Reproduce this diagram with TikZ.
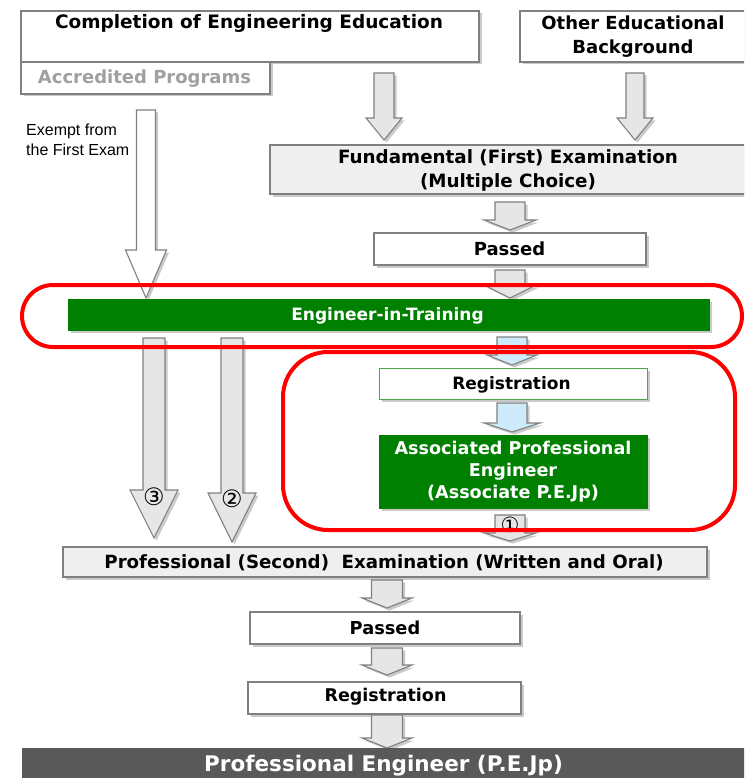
\documentclass[tikz,border=0pt]{standalone}
\usepackage{fontspec}
\setmainfont{DejaVu Sans}
\newfontfamily\arialf{Liberation Sans}
\usetikzlibrary{shadows}
\definecolor{boxgray}{HTML}{808080}
\definecolor{lightfill}{HTML}{EFEFEF}
\definecolor{arrowfill}{HTML}{E6E6E6}
\definecolor{bluefill}{HTML}{CDEBFA}
\definecolor{eitgreen}{HTML}{008000}
\definecolor{pebar}{HTML}{595959}
\definecolor{accgray}{HTML}{A0A0A0}
\newcommand\barrow[7][]{%
  \draw[blockarrow,#1] (#2-#6,#3) -- (#2+#6,#3) -- (#2+#6,#4) -- (#2+#7,#4) -- (#2,#5) -- (#2-#7,#4) -- (#2-#6,#4) -- cycle;}
\begin{document}
\begin{tikzpicture}[x=1pt,y=-1pt,
  shad/.style={drop shadow={opacity=0.35,shadow xshift=2.5pt,shadow yshift=-2.5pt,fill=black!60}},
  box/.style={draw=boxgray,line width=1.2pt,fill=white,inner sep=0pt,outer sep=0pt,shad},
  grayfillbox/.style={box,fill=lightfill},
  greenbox/.style={draw=eitgreen,fill=eitgreen,inner sep=0pt,outer sep=0pt,shad},
  regbox/.style={draw=eitgreen!70,line width=1pt,fill=white,inner sep=0pt,outer sep=0pt,shad},
  blockarrow/.style={draw=boxgray,line width=1.1pt,fill=arrowfill,line join=miter,shad},
  redring/.style={draw=red,line width=4pt},
  txt/.style={font=\bfseries\fontsize{18.3}{24}\selectfont,inner sep=0pt,align=center},
  wtxt/.style={txt,text=white},
  circnum/.style={font=\fontsize{24}{24}\selectfont,inner sep=0pt},
]
\useasboundingbox (0,0) rectangle (744,778);
\clip (0,0) rectangle (744,778);

% top boxes
\node[box,minimum width=458pt,minimum height=51pt] (edu) at (250,36.5) {};
\node[txt,font=\bfseries\fontsize{18.5}{24}\selectfont] (edutxt) at (249,23.5) {Completion of Engineering Education};
\node[box,minimum width=249pt,minimum height=32pt] (acc) at (145.5,78) {};
\node[txt,text=accgray,font=\bfseries\fontsize{18}{24}\selectfont] (acctxt) at (144.5,78.5) {Accredited Programs};
\node[box,minimum width=230pt,minimum height=51pt] (other) at (635,36.5) {};
\node[txt,font=\bfseries\fontsize{18}{24}\selectfont] (othertxt) at (633,36.5) {Other Educational\\Background};

% arrows to fundamental
\barrow{384}{73}{118}{140}{10}{18}
\barrow{635}{73}{118}{140}{9}{18}

% fundamental
\node[grayfillbox,minimum width=480pt,minimum height=49pt] (fund) at (510,169.5) {};
\node[txt] (fundtxt) at (508,170.5) {Fundamental (First) Examination\\(Multiple Choice)};

\barrow{510}{202}{220}{230}{15}{26}
\node[box,minimum width=272pt,minimum height=32pt] (passed1) at (510,249) {};
\node[txt,font=\bfseries\fontsize{18}{24}\selectfont] (passed1txt) at (509.5,248.5) {Passed};
\barrow{510}{270}{285}{298}{15}{26}

% exempt
\node[font=\arialf\fontsize{16}{20}\selectfont,align=left,anchor=west,inner sep=0pt] (exempt) at (26,140) {Exempt from\\the First Exam};
\barrow[fill=white]{146}{110}{250}{298}{9.5}{20.5}

% EIT
\node[greenbox,minimum width=641pt,minimum height=31pt] (eit) at (388.5,314.5) {};
\node[wtxt,font=\bfseries\fontsize{17}{20}\selectfont] (eittxt) at (387.5,315.5) {Engineer-in-Training};

% long arrows
\barrow{154}{338}{490}{538}{11}{24}
\barrow{232}{338}{493}{542}{11}{24}
\node[circnum] (c3) at (154,497) {③};
\node[circnum] (c2) at (232,499) {②};

% registration / APE
\barrow[fill=bluefill]{512}{337}{355}{365}{15}{25}
\node[regbox,minimum width=268pt,minimum height=31pt] (reg1) at (513,383.5) {};
\node[txt,font=\bfseries\fontsize{17}{20}\selectfont] (reg1txt) at (511.5,384.5) {Registration};
\barrow[fill=bluefill]{512}{403}{423}{432}{15}{28}
\node[greenbox,minimum width=268pt,minimum height=73pt] (ape) at (513,471.5) {};
\node[wtxt,font=\bfseries\fontsize{17.6}{22}\selectfont] (apetxt) at (513,471.5) {Associated Professional\\Engineer\\(Associate P.E.Jp)};
\barrow{510}{515}{533}{541}{15}{26}
\node[circnum,font=\fontsize{21}{21}\selectfont] (c1) at (510,525) {①};

% red rings
\draw[redring,rounded corners=31pt] (22,285) rectangle (742,347);
\draw[redring,rounded corners=45pt] (283,352) rectangle (735,530);

% professional exam
\node[grayfillbox,minimum width=644pt,minimum height=30pt] (pro) at (385,562) {};
\node[txt,font=\bfseries\fontsize{18.2}{22}\selectfont] (protxt) at (384,562.5) {Professional (Second)\ \ Examination (Written and Oral)};

\barrow{387}{580}{598}{608}{15.5}{25}
\node[box,minimum width=270pt,minimum height=32pt] (passed2) at (385,628) {};
\node[txt,font=\bfseries\fontsize{17.8}{22}\selectfont] (passed2txt) at (385,627.5) {Passed};
\barrow{387}{648}{665}{675}{15.5}{25}
\node[box,minimum width=273pt,minimum height=32pt] (reg2) at (384.5,698) {};
\node[txt,font=\bfseries\fontsize{17.5}{22}\selectfont] (reg2txt) at (385.5,696.5) {Registration};
\barrow{387}{715}{738}{748}{15.5}{25}

% PE bar
\node[fill=pebar,minimum width=740pt,minimum height=34pt,inner sep=0pt,outer sep=0pt] (pe) at (392,765) {};
\node[wtxt,font=\bfseries\fontsize{21.5}{24}\selectfont] (petxt) at (383.5,765.5) {Professional Engineer (P.E.Jp)};
\end{tikzpicture}
\end{document}
